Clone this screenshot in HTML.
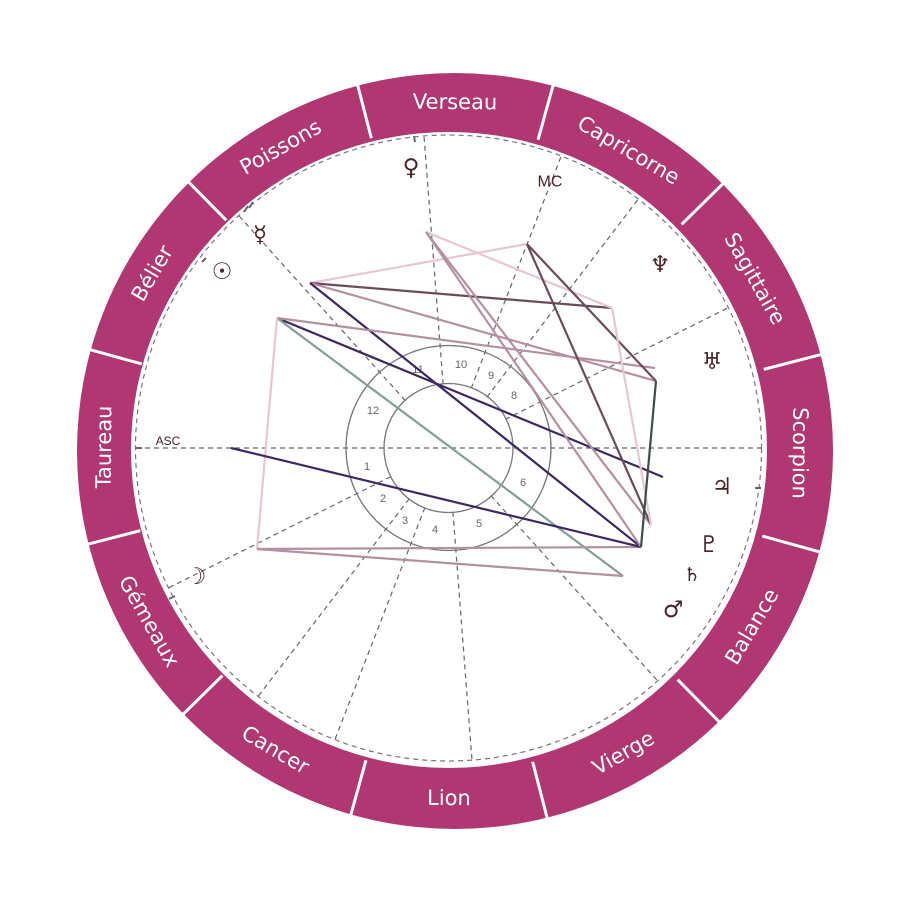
<!DOCTYPE html>
<html><head><meta charset="utf-8"><style>
html,body{margin:0;padding:0;background:#fff}
svg{display:block}
.s{font-family:"DejaVu Sans","Liberation Sans",sans-serif;font-size:21px;fill:#fff;text-anchor:middle;dominant-baseline:central}
.g{font-family:"DejaVu Sans",sans-serif;font-size:23px;fill:#4a2228;text-anchor:middle;dominant-baseline:central}
.h{font-family:"Liberation Sans",sans-serif;font-size:11px;fill:#666;text-anchor:middle;dominant-baseline:central}
</style></head><body>
<svg width="897" height="897" viewBox="0 0 897 897" xmlns="http://www.w3.org/2000/svg">
<path fill="#b03772" fill-rule="evenodd" d="M77,451 A378,378 0 1 0 833,451 A378,378 0 1 0 77,451 Z M131,450 A318,318 0 1 1 767,450 A318,318 0 1 1 131,450 Z"/>
<g stroke="#fff" stroke-width="3">
<line x1="452" y1="128" x2="452" y2="68" transform="rotate(15.5 452 450)"/>
<line x1="452" y1="128" x2="452" y2="68" transform="rotate(45.5 452 450)"/>
<line x1="452" y1="128" x2="452" y2="68" transform="rotate(75.5 452 450)"/>
<line x1="452" y1="128" x2="452" y2="68" transform="rotate(105.5 452 450)"/>
<line x1="452" y1="128" x2="452" y2="68" transform="rotate(135.5 452 450)"/>
<line x1="452" y1="128" x2="452" y2="68" transform="rotate(165.5 452 450)"/>
<line x1="452" y1="128" x2="452" y2="68" transform="rotate(195.5 452 450)"/>
<line x1="452" y1="128" x2="452" y2="68" transform="rotate(225.5 452 450)"/>
<line x1="452" y1="128" x2="452" y2="68" transform="rotate(255.5 452 450)"/>
<line x1="452" y1="128" x2="452" y2="68" transform="rotate(285.5 452 450)"/>
<line x1="452" y1="128" x2="452" y2="68" transform="rotate(315.5 452 450)"/>
<line x1="452" y1="128" x2="452" y2="68" transform="rotate(345.5 452 450)"/>
</g>
<text class="s" x="452" y="102" transform="rotate(0.5 452 450)">Verseau</text>
<text class="s" x="452" y="102" transform="rotate(30.5 452 450)">Capricorne</text>
<text class="s" x="452" y="102" transform="rotate(60.5 452 450)">Sagittaire</text>
<text class="s" x="452" y="102" transform="rotate(90.5 452 450)">Scorpion</text>
<text class="s" x="452" y="798" transform="rotate(-59.5 452 450)">Balance</text>
<text class="s" x="452" y="798" transform="rotate(-29.5 452 450)">Vierge</text>
<text class="s" x="452" y="798" transform="rotate(0.5 452 450)">Lion</text>
<text class="s" x="452" y="798" transform="rotate(30.5 452 450)">Cancer</text>
<text class="s" x="452" y="798" transform="rotate(60.5 452 450)">Gémeaux</text>
<text class="s" x="452" y="102" transform="rotate(-89.5 452 450)">Taureau</text>
<text class="s" x="452" y="102" transform="rotate(-59.5 452 450)">Bélier</text>
<text class="s" x="452" y="102" transform="rotate(-29.5 452 450)">Poissons</text>

<circle cx="448.5" cy="448" r="313" fill="none" stroke="#777" stroke-width="1.2" stroke-dasharray="5 4"/>
<g stroke="#666" stroke-width="1.2" stroke-dasharray="5 4">
<line x1="136" y1="448" x2="761" y2="448"/>
<line x1="512" y1="448" x2="761" y2="448" transform="rotate(-206.6 448 448)"/>
<line x1="512" y1="448" x2="761" y2="448" transform="rotate(-232.6 448 448)"/>
<line x1="512" y1="448" x2="761" y2="448" transform="rotate(-248.8 448 448)"/>
<line x1="512" y1="448" x2="761" y2="448" transform="rotate(-274.4 448 448)"/>
<line x1="512" y1="448" x2="761" y2="448" transform="rotate(-312 448 448)"/>
<line x1="512" y1="448" x2="761" y2="448" transform="rotate(-26.6 448 448)"/>
<line x1="512" y1="448" x2="761" y2="448" transform="rotate(-52.6 448 448)"/>
<line x1="512" y1="448" x2="761" y2="448" transform="rotate(-68.8 448 448)"/>
<line x1="512" y1="448" x2="761" y2="448" transform="rotate(-94.4 448 448)"/>
<line x1="512" y1="448" x2="761" y2="448" transform="rotate(-132 448 448)"/>
</g>
<circle cx="448.5" cy="448" r="102.5" fill="none" stroke="#777" stroke-width="1.3"/>
<circle cx="448.5" cy="448" r="64.5" fill="none" stroke="#777" stroke-width="1.3"/>
<g>
<text class="h" x="367" y="467">1</text><text class="h" x="383" y="499">2</text>
<text class="h" x="405" y="521">3</text><text class="h" x="435" y="530">4</text>
<text class="h" x="479" y="524">5</text><text class="h" x="523" y="483">6</text>
<text class="h" x="514" y="396">8</text><text class="h" x="491" y="376">9</text>
<text class="h" x="461" y="365">10</text><text class="h" x="418" y="370">11</text>
<text class="h" x="373" y="411">12</text>
</g>
<g fill="none" stroke-width="2.2">
<line x1="310" y1="283" x2="527" y2="244" stroke="#e8c6d3"/>
<line x1="310" y1="283" x2="612" y2="308" stroke="#6b4c5c"/>
<line x1="310" y1="283" x2="656" y2="381" stroke="#b58fa2"/>
<line x1="310" y1="283" x2="641" y2="547" stroke="#3d2863"/>
<line x1="277" y1="318" x2="663" y2="477" stroke="#3d2863"/>
<line x1="277" y1="318" x2="623" y2="576" stroke="#80a096"/>
<line x1="277" y1="318" x2="655" y2="368" stroke="#b58fa2"/>
<line x1="277" y1="318" x2="257" y2="549" stroke="#e8c6d3"/>
<line x1="257" y1="549" x2="641" y2="547" stroke="#b58fa2"/>
<line x1="257" y1="549" x2="623" y2="576" stroke="#b58fa2"/>
<line x1="231" y1="448" x2="641" y2="547" stroke="#3d2863"/>
<line x1="426" y1="232" x2="612" y2="308" stroke="#e8c6d3"/>
<line x1="426" y1="232" x2="651" y2="525" stroke="#b58fa2"/>
<line x1="426" y1="232" x2="641" y2="547" stroke="#b58fa2"/>
<line x1="527" y1="244" x2="656" y2="381" stroke="#6b4c5c"/>
<line x1="527" y1="244" x2="651" y2="525" stroke="#6b4c5c"/>
<line x1="612" y1="308" x2="651" y2="525" stroke="#e8c6d3"/>
<line x1="656" y1="381" x2="641" y2="547" stroke="#3f4d48"/>
</g>
<g stroke="#666" stroke-width="2">
<line x1="248" y1="206" x2="244" y2="212"/><line x1="253" y1="202" x2="249" y2="208"/>
<line x1="206" y1="258" x2="202" y2="262"/>
<line x1="414" y1="136" x2="415" y2="142"/>
<line x1="175" y1="596" x2="169" y2="599"/>
<line x1="136" y1="448" x2="142" y2="448"/>
<line x1="761" y1="488" x2="755" y2="488"/>
</g>
<text class="g" x="222" y="272">☉</text>
<text class="g" x="260" y="235">☿</text>
<text class="g" x="411" y="168">♀</text>
<text x="550" y="182" font-family="Liberation Sans,sans-serif" font-size="16" fill="#4a2228" text-anchor="middle" dominant-baseline="central">MC</text>
<text x="168" y="441" font-family="Liberation Sans,sans-serif" font-size="12" fill="#4a2228" text-anchor="middle" dominant-baseline="central">ASC</text>
<text class="g" x="660" y="265">♆</text>
<text class="g" x="712" y="362">♅</text>
<text class="g" x="722" y="487">♃</text>
<text class="g" x="709" y="545">♇</text>
<text class="g" x="692" y="575" style="font-size:19px">♄</text>
<text class="g" x="673" y="610">♂</text>
<text class="g" x="196" y="577">☽</text>
</svg>
</body></html>
